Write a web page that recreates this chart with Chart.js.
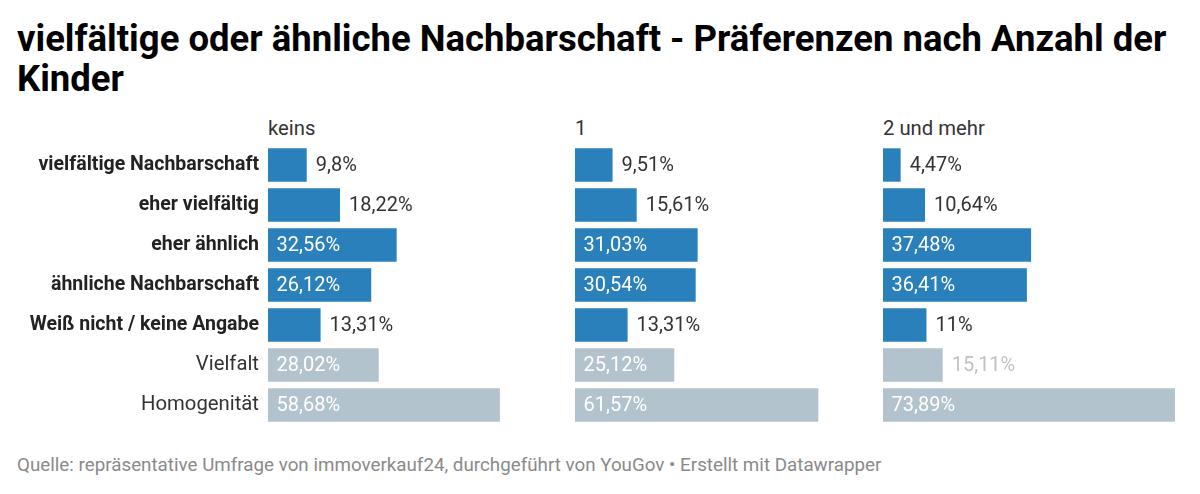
<!DOCTYPE html>
<html><head><meta charset="utf-8">
<script src="https://cdn.jsdelivr.net/npm/chart.js@4"></script>
<style>
body{margin:0;width:1200px;height:494px;background:#fff;font-family:Roboto,sans-serif;position:relative;overflow:hidden}
#title{position:absolute;left:17px;top:19px;font-size:36.5px;font-weight:bold;line-height:40px;color:#000;white-space:nowrap}
.hdr{position:absolute;top:116px;font-size:20.3px;color:#333;white-space:nowrap}
canvas{position:absolute;top:145px}
#foot{position:absolute;left:17px;top:454px;font-size:18.8px;color:#8a8a8a;white-space:nowrap}
</style></head>
<body>
<div id="title">vielfältige oder ähnliche Nachbarschaft - Präferenzen nach Anzahl der<br>Kinder</div>
<div class="hdr" id="h0" style="left:268px"></div>
<div class="hdr" id="h1" style="left:575px"></div>
<div class="hdr" id="h2" style="left:883px"></div>
<canvas id="c0" width="560" height="280" style="left:0"></canvas>
<canvas id="c1" width="292" height="280" style="left:575px"></canvas>
<canvas id="c2" width="292" height="280" style="left:883px"></canvas>
<div id="foot">Quelle: repräsentative Umfrage von immoverkauf24, durchgeführt von YouGov • Erstellt mit Datawrapper</div>
<script>
const categories = ['vielfältige Nachbarschaft','eher vielfältig','eher ähnlich','ähnliche Nachbarschaft','Weiß nicht / keine Angabe','Vielfalt','Homogenität'];
const groups = ['keins','1','2 und mehr'];
const keins = [9.8, 18.22, 32.56, 26.12, 13.31, 28.02, 58.68];
const eins = [9.51, 15.61, 31.03, 30.54, 13.31, 25.12, 61.57];
const zweiUndMehr = [4.47, 10.64, 37.48, 36.41, 11, 15.11, 73.89];
const summaryStart = 5;

const BLUE = '#2a80bb', GREY = '#b3c3ce';
const FONT = 'Roboto';
const series = [keins, eins, zweiUndMehr];
const xMax = Math.max(...keins, ...eins, ...zweiUndMehr);

groups.forEach((g,i)=>{ document.getElementById('h'+i).textContent = g; });

const valueLabels = {
  id:'valueLabels',
  afterDatasetsDraw(chart){
    const ctx = chart.ctx;
    const meta = chart.getDatasetMeta(0);
    const data = chart.data.datasets[0].data;
    ctx.save();
    ctx.font = '20px ' + FONT;
    ctx.textBaseline = 'middle';
    ctx.textAlign = 'left';
    meta.data.forEach((bar, i) => {
      const txt = data[i].toLocaleString('de-DE') + '%';
      const w = ctx.measureText(txt).width;
      const bw = bar.x - bar.base;
      if (bw >= w + 24) {
        ctx.fillStyle = '#fff';
        ctx.fillText(txt, bar.base + 8.5, bar.y + 1);
      } else {
        ctx.fillStyle = i < summaryStart ? '#333' : '#c2c2c2';
        ctx.fillText(txt, bar.x + 9, bar.y + 1);
      }
    });
    ctx.restore();
  }
};

function makeChart(idx){
  const withLabels = idx === 0;
  const yScale = {
    display: withLabels,
    grid:{display:false, drawTicks:false}, border:{display:false},
    ticks:{
      padding:9,
      color:(c)=> c.index < summaryStart ? '#222' : '#333',
      font:(c)=> c.index < summaryStart
        ? {family:FONT, size:19.5, weight:'bold'}
        : {family:FONT, size:20.3, weight:'normal'}
    }
  };
  if (withLabels) {
    yScale.afterFit = (s)=>{ s.width = 268; s.paddingTop = 0; s.paddingBottom = 0; };
  }
  new Chart(document.getElementById('c'+idx), {
    type:'bar',
    data:{labels:categories, datasets:[{
      data:series[idx],
      backgroundColor: categories.map((c,i)=> i < summaryStart ? BLUE : GREY),
      barPercentage:0.835, categoryPercentage:1.0, borderWidth:0
    }]},
    options:{
      indexAxis:'y', responsive:false, animation:false,
      layout:{padding:0},
      plugins:{legend:{display:false}, tooltip:{enabled:false}},
      scales:{
        x:{display:false, min:0, max:xMax},
        y:yScale
      }
    },
    plugins:[valueLabels]
  });
}

Promise.all([document.fonts.load('bold 19.5px Roboto'), document.fonts.load('20px Roboto')]).then(()=>{
  makeChart(0); makeChart(1); makeChart(2);
});
</script>
</body></html>
